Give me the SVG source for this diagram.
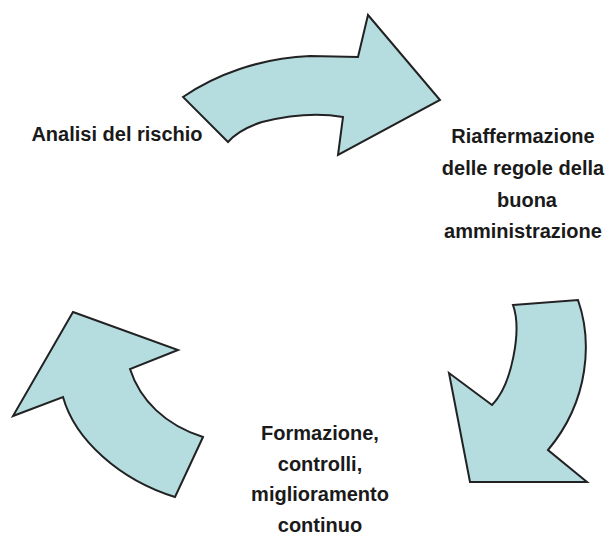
<svg xmlns="http://www.w3.org/2000/svg" width="610" height="536" viewBox="0 0 610 536">
<style>
.arrow{fill:#b5dde0;stroke:#222;stroke-width:2;stroke-linejoin:miter}
.lbl{font-family:"Liberation Sans",Arial,sans-serif;font-weight:bold;font-size:20px;fill:#1a1a1a;text-anchor:middle}
</style>
<rect width="610" height="536" fill="#fff"/>
<g id="connectors">
<path id="arrow-top" class="arrow" d="M183,97 C215,75 260,58 310,56 L358,57 L368,15 L440,100 L338,155 L343,117 C320,113 290,115 262,122 C247,127 235,134 228,142 Z"/>
<path id="arrow-right" class="arrow" d="M513,305 L578,300 C592,340 590,400 548,450 L587,482 L470,482 L449,373 L492,405 C512,385 522,330 513,305 Z"/>
<path id="arrow-left" class="arrow" d="M73,312 L178,350 L130,369 C140,400 165,425 203,437 L175,497 C120,480 75,440 63,397 L13,416 Z"/>
</g>
<g id="node-analisi">
<text class="lbl" x="117" y="141">Analisi del rischio</text>
</g>
<g id="node-riaffermazione">
<text class="lbl" x="523" y="143">Riaffermazione</text>
<text class="lbl" x="523" y="175">delle regole della</text>
<text class="lbl" x="527" y="207">buona</text>
<text class="lbl" x="523" y="238">amministrazione</text>
</g>
<g id="node-formazione">
<text class="lbl" x="320" y="440">Formazione,</text>
<text class="lbl" x="320" y="471">controlli,</text>
<text class="lbl" x="320" y="501">miglioramento</text>
<text class="lbl" x="320" y="532">continuo</text>
</g>
</svg>
